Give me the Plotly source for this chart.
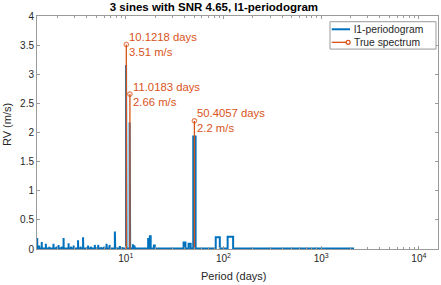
import numpy as np
import plotly.graph_objects as go

# ---- data ----
# l1-periodogram: nonzero components (period in days, amplitude in m/s)
l1_periods = [1.24, 1.30, 1.38, 1.52, 1.65, 1.82, 1.95, 2.05, 2.20, 2.31, 2.60, 2.75,
              2.93, 3.25, 3.45, 3.66, 4.12, 4.40, 4.83, 5.23, 5.60, 6.00, 6.37, 6.84,
              7.76, 8.73, 9.20, 10.12, 11.02, 11.9, 12.3, 17.1, 17.8, 19.6, 39.9, 45.0,
              50.4, 87.3, 117.4]
l1_amps = [0.19, 0.06, 0.12, 0.09, 0.04, 0.09, 0.04, 0.07, 0.04, 0.19, 0.10, 0.04,
           0.06, 0.15, 0.04, 0.20, 0.06, 0.04, 0.07, 0.07, 0.03, 0.04, 0.09, 0.07,
           0.30, 0.05, 0.03, 3.16, 2.17, 0.08, 0.06, 0.17, 0.22, 0.06, 0.11, 0.09,
           1.93, 0.20, 0.21]
l1_baseline = 0.01
period_min = 1.234
period_max = 2172.0
freq_step = 0.0011  # frequency grid step (1/day)

# true spectrum
true_periods = [10.1218, 11.0183, 50.4057]
true_amps = [3.51, 2.66, 2.2]

# axis ticks
xtick_vals = [10, 100, 1000, 10000]
xtick_text = ["10<sup>1</sup>", "10<sup>2</sup>", "10<sup>3</sup>", "10<sup>4</sup>"]
ytick_vals = [0, 0.5, 1, 1.5, 2, 2.5, 3, 3.5, 4]
ytick_text = ["0", "0.5", "1", "1.5", "2", "2.5", "3", "3.5", "4"]

legend_names = ["l1-periodogram", "True spectrum"]

BLUE = "#0072BD"
RED = "#D95319"
TXT = "#262626"
AX = "#9a9a9a"
FONT = "Liberation Sans, Arial, sans-serif"

# ---- build stair line of the l1-periodogram ----
bx, by = [period_min], [l1_baseline]
for p, a in sorted(zip(l1_periods, l1_amps)):
    f = 1.0 / p
    pl = max(1.0 / (f + freq_step / 2), period_min)
    pr = 1.0 / max(f - freq_step / 2, 1e-9)
    bx += [pl, pl, pr, pr]
    by += [l1_baseline, a, a, l1_baseline]
bx.append(period_max)
by.append(l1_baseline)

# ---- true spectrum stems ----
sx, sy, ss = [], [], []
for p, a in zip(true_periods, true_amps):
    sx += [p, p, None]
    sy += [0, a, None]
    ss += [0, 4.5, 0]

fig = go.Figure()
fig.add_trace(go.Scatter(x=bx, y=by, mode="lines", name=legend_names[0],
                         line=dict(color=BLUE, width=2), showlegend=False))
fig.add_trace(go.Scatter(x=sx, y=sy, mode="lines+markers", name=legend_names[1],
                         line=dict(color=RED, width=1.3), showlegend=False,
                         marker=dict(symbol="circle-open", size=ss, color=RED,
                                     line=dict(width=1.2, color=RED))))

for p, a in zip(true_periods, true_amps):
    fig.add_annotation(x=np.log10(p), y=a, xref="x", yref="y",
                       text=f"{p:g} days<br>{a:g} m/s", showarrow=False,
                       xanchor="left", yanchor="middle", align="left", xshift=1,
                       font=dict(family=FONT, size=11.3, color=RED))

# axis titles
fig.add_annotation(x=0.491, y=-0.116, xref="paper", yref="paper", text="Period (days)",
                   showarrow=False, xanchor="center", yanchor="middle",
                   font=dict(family=FONT, size=11, color=TXT))
fig.add_annotation(x=-0.075, y=0.536, xref="paper", yref="paper", text="RV (m/s)",
                   showarrow=False, xanchor="center", yanchor="middle", textangle=-90,
                   font=dict(family=FONT, size=11, color=TXT))

# ---- legend (box, samples, labels) ----
fig.add_shape(type="rect", xref="paper", yref="paper", x0=0.7307, x1=0.995,
              y0=0.858, y1=0.9755, line=dict(color=AX, width=1), fillcolor="white",
              layer="above")
rows_y = [0.943, 0.887]
fig.add_shape(type="line", xref="paper", yref="paper", x0=0.735, x1=0.7805,
              y0=rows_y[0], y1=rows_y[0], line=dict(color=BLUE, width=2), layer="above")
fig.add_shape(type="line", xref="paper", yref="paper", x0=0.735, x1=0.774,
              y0=rows_y[1], y1=rows_y[1], line=dict(color=RED, width=1.3), layer="above")
fig.add_shape(type="circle", xref="paper", yref="paper", xsizemode="pixel",
              ysizemode="pixel", xanchor=0.776, yanchor=rows_y[1], x0=-2, x1=2,
              y0=-2, y1=2, line=dict(color=RED, width=1.2), fillcolor="white",
              layer="above")
for name, yy in zip(legend_names, rows_y):
    fig.add_annotation(x=0.785, y=yy, xref="paper", yref="paper", text=name,
                       showarrow=False, xanchor="left", yanchor="middle",
                       font=dict(family=FONT, size=10.3, color=TXT))

axis_common = dict(showline=True, linecolor=AX, linewidth=1, mirror="ticks",
                   ticks="inside", ticklen=3, tickcolor=AX, showgrid=False,
                   zeroline=False, tickfont=dict(family=FONT, size=10, color=TXT))

fig.update_xaxes(type="log", range=[0.091, 4.196], tickmode="array",
                 tickvals=xtick_vals, ticktext=xtick_text,
                 minor=dict(ticks="inside", ticklen=2, tickcolor=AX,
                            dtick="D1", showgrid=False),
                 **axis_common)
fig.update_yaxes(range=[0, 4], tickmode="array", tickvals=ytick_vals,
                 ticktext=ytick_text, **axis_common)

fig.update_layout(
    width=441, height=285,
    margin=dict(l=37, r=3, t=16, b=36),
    paper_bgcolor="white", plot_bgcolor="white",
    title=dict(text="<b>3 sines with SNR 4.65, l1-periodogram</b>", x=0.485,
               xanchor="center", y=0.974, yanchor="middle",
               font=dict(family=FONT, size=11.5, color="black")),
    showlegend=False,
)

fig.write_html("out.html", config={"displayModeBar": False},
               post_script="document.body.style.margin='0';"
                           "document.body.style.overflow='hidden';")
